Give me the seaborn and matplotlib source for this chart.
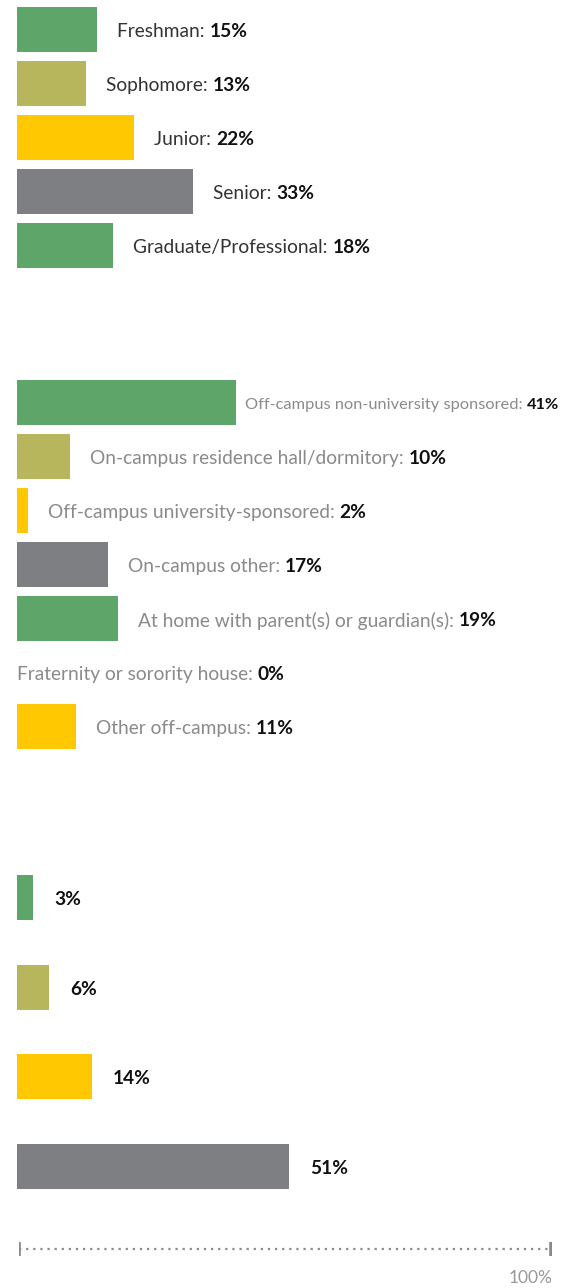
import matplotlib
matplotlib.use("Agg")
import matplotlib.pyplot as plt
import seaborn as sns
import numpy as np

# ---- data -------------------------------------------------------------
class_labels = ["Freshman", "Sophomore", "Junior", "Senior", "Graduate/Professional"]
class_values = [15, 13, 22, 33, 18]

housing_labels = [
    "Off-campus non-university sponsored",
    "On-campus residence hall/dormitory",
    "Off-campus university-sponsored",
    "On-campus other",
    "At home with parent(s) or guardian(s)",
    "Fraternity or sorority house",
    "Other off-campus",
]
housing_values = [41, 10, 2, 17, 19, 0, 11]

share_values = [3, 6, 14, 51]

palette_cycle = ["#5DA568", "#B8B65C", "#FFC800", "#7E7F83"]

# ---- layout helpers ---------------------------------------------------
W, H, DPI = 582, 1288, 100
sns.set_theme(style="white")
plt.rcParams["font.family"] = ["Lato", "DejaVu Sans"]

fig = plt.figure(figsize=(W / DPI, H / DPI), dpi=DPI)
fig.patch.set_facecolor("white")


def px_axes(left, top, right, bottom):
    return fig.add_axes([left / W, 1 - bottom / H, (right - left) / W, (bottom - top) / H])


def clean(ax):
    ax.set_xlim(0, 100)
    ax.set_axis_off()


FS = 13.8
LABEL_DARK = "#333333"
LABEL_GRAY = "#8a8a8a"
VALUE_COL = "#111111"
GAP_PT = 14.5  # space between bar end and its label (points)
DROP_PT = -1.5  # labels sit slightly below the bar centre
RIGHT_LIMIT = 566  # px


def bar_section(ax, values, labels, width, label_color):
    n = len(values)
    cols = [palette_cycle[i % 4] for i in range(n)]
    pos = list(range(n))
    sns.barplot(x=values, y=pos, hue=pos, palette=cols, orient="h",
                width=width, saturation=1, legend=False, ax=ax, linewidth=0)
    clean(ax)
    renderer = fig.canvas.get_renderer()
    for i, v in enumerate(values):
        offset = GAP_PT if v > 0 else 0
        fs = FS
        while True:
            gap = offset if fs == FS else 7
            if labels is not None:
                t1 = ax.annotate(f"{labels[i]}: ", xy=(v, i), xytext=(gap, DROP_PT),
                                 textcoords="offset points", va="center", ha="left",
                                 fontsize=fs, color=label_color, annotation_clip=False)
                t2 = ax.annotate(f"{v}%", xy=(1, 0.5), xycoords=t1, va="center",
                                 ha="left", fontsize=fs, fontweight="bold",
                                 color=VALUE_COL, annotation_clip=False)
            else:
                t1 = None
                t2 = ax.annotate(f"{v}%", xy=(v, i), xytext=(gap + 1, DROP_PT),
                                 textcoords="offset points", va="center", ha="left",
                                 fontsize=fs, fontweight="bold", color=VALUE_COL,
                                 annotation_clip=False)
            right = t2.get_window_extent(renderer).x1
            if right <= RIGHT_LIMIT or fs < 8:
                break
            t2.remove()
            if t1 is not None:
                t1.remove()
            fs -= 0.25


# class standing
ax1 = px_axes(17, 2.5, 550, 272.5)
bar_section(ax1, class_values, class_labels, 45 / 54, LABEL_DARK)

# housing
ax2 = px_axes(17, 375.5, 550, 753.5)
bar_section(ax2, housing_values, housing_labels, 45 / 54, LABEL_GRAY)

# shares
ax3 = px_axes(17, 852.75, 550, 1210.75)
bar_section(ax3, share_values, None, 45 / 89.5, LABEL_GRAY)

# scale bar 0-100%
ax4 = px_axes(19, 1239, 551, 1259)
ax4.set_xlim(0, 100)
ax4.set_ylim(-1, 1)
ax4.set_axis_off()
ax4.plot([0, 100], [0, 0], linestyle=(0, (1, 2.2)), color="#8a8a8a", lw=1.6,
         solid_capstyle="butt", dash_capstyle="butt")
ax4.plot([0, 100], [0, 0], linestyle="none", marker="|", markersize=10,
         markeredgewidth=2.6, color="#8a8a8a")
ax4.annotate("100%", xy=(100, 0), xytext=(1, -21), textcoords="offset points",
             ha="right", va="center", fontsize=12.5, color="#999999",
             annotation_clip=False)

fig.savefig("out.png", dpi=DPI, facecolor="white")
